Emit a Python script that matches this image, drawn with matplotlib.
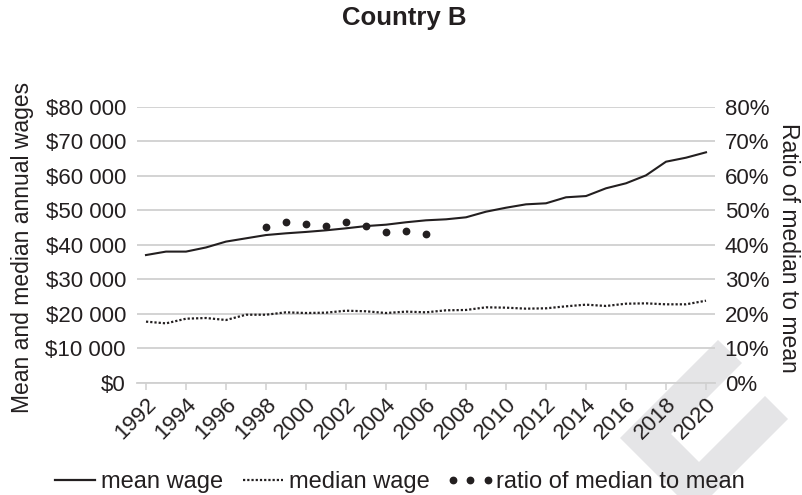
import matplotlib
matplotlib.use("Agg")
import matplotlib.pyplot as plt
from matplotlib.lines import Line2D
from matplotlib.patches import Polygon
from matplotlib.legend_handler import HandlerLine2D
from matplotlib.ticker import FuncFormatter, PercentFormatter, MultipleLocator

plt.rcParams["font.family"] = ["Liberation Sans", "DejaVu Sans"]

years = list(range(1992, 2021))
mean_wage = [37000, 38000, 38000, 39200, 40900, 41850, 42800, 43300, 43700, 44170,
             44750, 45400, 45800, 46500, 47070, 47360, 47940, 49570, 50720, 51700,
             52000, 53740, 54100, 56350, 57800, 60100, 64060, 65220, 66780]
median_wage = [17700, 17200, 18550, 18750, 18170, 19700, 19700, 20400, 20200, 20300,
               20870, 20700, 20200, 20600, 20400, 20980, 21080, 21850, 21750, 21460,
               21560, 22140, 22620, 22240, 22900, 23000, 22720, 22720, 23770]
ratio_years = [1998, 1999, 2000, 2001, 2002, 2003, 2004, 2005, 2006]
ratio = [0.451, 0.466, 0.461, 0.454, 0.466, 0.454, 0.438, 0.440, 0.431]

ink = "#231f20"
grid_c = "#d0d0d0"
W, H = 802, 495

fig = plt.figure(figsize=(W / 100, H / 100), dpi=100)

# light grey background mark in the lower right corner
mark_px = [(718, 340), (742, 363), (671, 434), (699, 462), (765, 396), (788, 419),
           (694.5, 512.5), (620, 438)]
fig.patches.append(Polygon([(x / W, 1 - y / H) for x, y in mark_px], closed=True,
                           transform=fig.transFigure, facecolor="#e5e5e7",
                           edgecolor="none", zorder=-1))

ax = fig.add_axes([137 / W, 112.3 / H, (715 - 137) / W, (388.3 - 112.3) / H])
ax.set_facecolor("none")
ax.plot(years, mean_wage, color=ink, lw=1.5, solid_joinstyle="round")
ax.plot(years, median_wage, color=ink, lw=1.6, linestyle=(0, (1.0, 0.9)))

ax.set_xlim(1991.55, 2020.45)
ax.set_ylim(0, 80000)
ax.yaxis.set_major_locator(MultipleLocator(10000))
ax.yaxis.set_major_formatter(FuncFormatter(lambda v, p: "$" + f"{int(v):,}".replace(",", " ")))
ax.set_xticks(years[::2])
ax.set_xticklabels([str(y) for y in years[::2]], rotation=45, ha="right", va="top",
                   rotation_mode="anchor")
ax.grid(axis="y", color=grid_c, lw=1.3)
ax.set_axisbelow(True)
for s in ["top", "right", "left"]:
    ax.spines[s].set_visible(False)
ax.spines["bottom"].set_color(grid_c)
ax.spines["bottom"].set_linewidth(1.3)
ax.tick_params(axis="x", colors=grid_c, labelcolor=ink, length=5, width=1.1,
               labelsize=16, pad=3)
ax.tick_params(axis="y", length=0, labelsize=16, labelcolor=ink, pad=8)
ax.set_ylabel("Mean and median annual wages", fontsize=16.5, color=ink)
ax.yaxis.set_label_coords(23 / W, 0.5, transform=fig.transFigure)
ax.yaxis.label.set_va("center")

ax2 = ax.twinx()
ax2.set_facecolor("none")
ax2.plot(ratio_years, ratio, linestyle="none", marker="o", ms=4.6, color=ink)
ax2.set_ylim(0, 0.8)
ax2.yaxis.set_major_locator(MultipleLocator(0.1))
ax2.yaxis.set_major_formatter(PercentFormatter(1.0, decimals=0))
for s in ax2.spines.values():
    s.set_visible(False)
ax2.tick_params(axis="y", length=0, labelsize=16, labelcolor=ink, pad=7)
ax2.set_ylabel("Ratio of median to mean", fontsize=16.5, color=ink, rotation=270)
ax2.yaxis.set_label_coords(788 / W, 0.5, transform=fig.transFigure)
ax2.yaxis.label.set_va("center")

fig.text(404 / W, 1 - 18 / H, "Country B", ha="center", va="center",
         fontsize=18.5, fontweight="bold", color=ink)

h_mean = Line2D([], [], color=ink, lw=1.6)
h_median = Line2D([], [], color=ink, lw=1.6, linestyle=(0, (1.0, 0.9)))
h_ratio = Line2D([], [], color=ink, linestyle="none", marker="o", ms=4.6)
fig.legend([h_mean, h_median, h_ratio],
           ["mean wage", "median wage", "ratio of median to mean"],
           loc="center", bbox_to_anchor=(400 / W, 1 - 482 / H), ncol=3,
           frameon=False, fontsize=17, handlelength=1.7, handletextpad=0.25,
           columnspacing=0.85, borderpad=0, labelcolor=ink,
           handler_map={h_ratio: HandlerLine2D(numpoints=3, marker_pad=0.1)})

fig.savefig("out.png", dpi=100)
